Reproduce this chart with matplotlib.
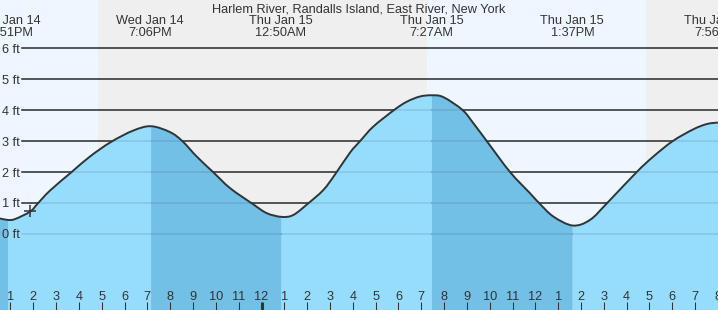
import numpy as np
import matplotlib
matplotlib.use('Agg')
from matplotlib import pyplot as plt
from matplotlib import transforms as mtransforms
from matplotlib.path import Path
from matplotlib.patches import PathPatch

plt.rcParams['font.family'] = ['Liberation Sans', 'DejaVu Sans']

# hours counted from Wed Jan 14 12:00 noon
# tide curve (hours, feet)
tide_t = [0.54, 0.89, 1.20, 1.86, 2.18, 2.73, 3.68, 4.48, 5.40, 6.38, 7.16,
          7.99, 8.53, 9.16, 9.89, 10.62, 11.61, 12.23, 12.88, 13.39, 14.02,
          14.71, 15.22, 15.88, 16.32, 16.90, 17.82, 18.36, 18.94, 19.46,
          19.97, 20.80, 21.28, 21.87, 22.89, 23.77, 24.16, 24.79, 25.64,
          26.39, 27.15, 28.44, 29.17, 30.02, 30.92, 31.51, 32.00]
tide_h = [0.50, 0.45, 0.48, 0.72, 0.97, 1.40, 2.00, 2.50, 2.97, 3.34, 3.48,
          3.29, 3.00, 2.50, 1.99, 1.48, 0.97, 0.67, 0.55, 0.61, 0.97,
          1.42, 1.92, 2.63, 3.00, 3.47, 4.01, 4.27, 4.44, 4.48,
          4.42, 4.01, 3.58, 3.00, 2.00, 1.31, 1.00, 0.56, 0.27,
          0.45, 1.00, 2.00, 2.50, 3.00, 3.38, 3.55, 3.60]

# high / low tide times shown at the top
ext_t = [0.85, 7.10, 12.83, 19.45, 25.62, 31.93]
ext_day = ['Wed Jan 14', 'Wed Jan 14', 'Thu Jan 15', 'Thu Jan 15', 'Thu Jan 15', 'Thu Jan 15']
ext_clock = ['12:51PM', '7:06PM', '12:50AM', '7:27AM', '1:37PM', '7:56PM']

# sunset / sunrise
sunset_wed = 4.835
sunrise_thu = 19.25
sunset_thu = 28.85

now_t, now_h = 1.86, 0.74
hours = list(range(1, 33))
ft_levels = [0, 1, 2, 3, 4, 5, 6]

title = 'Harlem River, Randalls Island, East River, New York'

W, H = 718, 310
fig = plt.figure(figsize=(W / 100, H / 100), dpi=100)
ax = fig.add_axes([0, 0, 1, 1])
ax.set_xlim(0.54, 32.003)
ax.set_ylim(-2.46, 7.56)
for s in ax.spines.values():
    s.set_visible(False)
ax.set_yticks([])

day_col = '#eef7ff'
night_col = '#efefef'
rise_col = '#96dcfd'
fall_col = '#72c0e5'
ink = '#333333'

ax.set_facecolor(day_col)
ax.axvspan(sunset_wed, sunrise_thu, color=night_col, lw=0, zorder=0)
ax.axvspan(sunset_thu, 40, color=night_col, lw=0, zorder=0)

# grid lines
for lv in ft_levels:
    ax.axhline(lv, xmin=22 / W, xmax=1, color=ink, lw=1.1, zorder=1)

P = np.column_stack([tide_t, tide_h])
n = len(P)


def smooth_path(a, b):
    # smooth (catmull-rom style) bezier through the read points a..b
    verts = [P[a]]
    codes = [Path.MOVETO]
    for i in range(a, b):
        p0 = P[max(i - 1, 0)]
        p1 = P[i]
        p2 = P[i + 1]
        p3 = P[min(i + 2, n - 1)]
        verts += [p1 + (p2 - p0) / 6, p2 - (p3 - p1) / 6, p2]
        codes += [Path.CURVE4] * 3
    return verts, codes


# fill under the curve, darker while falling
h = P[:, 1]
d = np.sign(np.diff(h))
breaks = [0] + [i + 1 for i in range(len(d) - 1) if d[i] != d[i + 1]] + [n - 1]
for a, b in zip(breaks[:-1], breaks[1:]):
    col = fall_col if h[b] < h[a] else rise_col
    verts, codes = smooth_path(a, b)
    verts += [(P[b, 0], -5), (P[a, 0], -5), P[a]]
    codes += [Path.LINETO, Path.LINETO, Path.CLOSEPOLY]
    ax.add_patch(PathPatch(Path(verts, codes), facecolor=col, lw=0, zorder=2))

# grid lines seen through the fill
for lv in ft_levels:
    ax.axhline(lv, xmin=22 / W, xmax=1, color='black', alpha=0.1, lw=1.1, zorder=3)

verts, codes = smooth_path(0, n - 1)
ax.add_patch(PathPatch(Path(verts, codes), facecolor='none', edgecolor=ink, lw=1.4, zorder=4))
ax.plot([now_t], [now_h], marker='+', ms=9, mew=1.1, color=ink, zorder=5)

fs = 9.2
bx = mtransforms.blended_transform_factory(ax.transData, ax.transAxes)
by = mtransforms.blended_transform_factory(ax.transAxes, ax.transData)

ax.text(0.5, 1 - 12 / H, title, transform=ax.transAxes, ha='center', va='baseline',
        fontsize=fs, color=ink)
for et, dd, cl in zip(ext_t, ext_day, ext_clock):
    ax.text(et, 1 - 24 / H, dd, transform=bx, ha='center', va='baseline', fontsize=fs, color=ink)
    ax.text(et, 1 - 36 / H, cl, transform=bx, ha='center', va='baseline', fontsize=fs, color=ink)

for lv in ft_levels:
    ax.text(2 / W, lv, '%d ft' % lv, transform=by, ha='left', va='center_baseline',
            fontsize=fs, color=ink, zorder=6)

# hour ticks
ax.set_xticks(hours)
ax.set_xticklabels([])
ax.tick_params(axis='x', direction='in', length=5.8, width=0.75, color=ink)
ax.set_axisbelow(False)
mid = ax.xaxis.get_major_ticks()[hours.index(12)]
mid.tick1line.set_markeredgewidth(2.2)
mid.tick1line.set_markersize(6.1)
for hr in hours:
    ax.text(hr, 10 / H, str((hr + 11) % 12 + 1), transform=bx, ha='center', va='baseline',
            fontsize=fs, color=ink, zorder=6)

fig.savefig('out.png', dpi=100)
